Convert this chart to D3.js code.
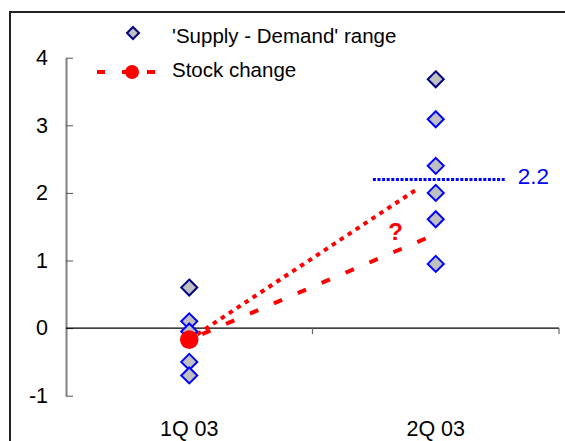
<!DOCTYPE html>
<html>
<head>
<meta charset="utf-8">
<script src="https://cdn.jsdelivr.net/npm/d3@7"></script>
<style>
  body { margin: 0; background: #fff; }
  svg { display: block; font-family: 'Liberation Sans', Arial, sans-serif; }
</style>
</head>
<body>
<div id="chart"></div>
<script>
const categories = ['1Q 03', '2Q 03'];
const yTicks = [-1, 0, 1, 2, 3, 4];

// 'Supply - Demand' range, highest estimate per quarter and the rest
const rangeMax = [0.6, 3.68];
const rangeOther = [
  [0.1, -0.05, -0.5, -0.7],
  [3.09, 2.4, 2.0, 1.61, 0.95],
];

// stock change (actual 1Q, dashed guess for 2Q)
const stockChange = [-0.17, 1.39];
// dotted projection, x in category units
const projectionX = [0.5, 1.43];
const projectionY = [-0.17, 2.07];

// 2.2 reference level and its x extent in category units
const refValue = 2.2;
const refFrom = 1.245;
const refTo = 1.78;

const width = 565;
const height = 441;
const left = 66;
const right = 559;

const svg = d3.select('#chart').append('svg').attr('width', width).attr('height', height);

svg.append('rect').attr('width', width).attr('height', height).attr('fill', '#fff');

// chart frame (runs off the right and bottom edge)
svg
  .append('rect')
  .attr('x', 10)
  .attr('y', 12)
  .attr('width', 600)
  .attr('height', 500)
  .attr('fill', 'none')
  .attr('stroke', '#222')
  .attr('stroke-width', 2);

const x = d3.scaleLinear().domain([0, categories.length]).range([left, right]);
const y = d3.scaleLinear().domain([-1, 4]).range([395.7, 57.7]);
const cx = (i) => x(i + 0.5);

// y axis
const yAxis = d3
  .axisLeft(y)
  .tickValues(yTicks)
  .tickSizeInner(-7)
  .tickSizeOuter(0)
  .tickPadding(18)
  .tickFormat((d) => String(d));
const gy = svg.append('g').attr('transform', `translate(${left},0)`).call(yAxis);
gy.select('.domain').attr('stroke', '#808080').attr('stroke-width', 2);
gy.selectAll('.tick line').attr('stroke', '#555').attr('stroke-width', 1);
gy.selectAll('.tick text')
  .attr('fill', '#000')
  .style('font-size', '21.5px')
  .style('font-family', "'Liberation Sans', Arial, sans-serif");

// x axis along zero
svg
  .append('line')
  .attr('x1', left)
  .attr('x2', right)
  .attr('y1', y(0))
  .attr('y2', y(0))
  .attr('stroke', '#000')
  .attr('stroke-width', 1.3);
svg
  .selectAll('.xtick')
  .data(d3.range(1, categories.length + 1))
  .join('line')
  .attr('class', 'xtick')
  .attr('x1', (d) => x(d))
  .attr('x2', (d) => x(d))
  .attr('y1', y(0))
  .attr('y2', y(0) + 6)
  .attr('stroke', '#666')
  .attr('stroke-width', 1.2);

svg
  .selectAll('.xlabel')
  .data(categories)
  .join('text')
  .attr('class', 'xlabel')
  .attr('x', (d, i) => cx(i))
  .attr('y', 436)
  .attr('text-anchor', 'middle')
  .style('font-size', '21.5px')
  .text((d) => d);

// 2.2 reference line
svg
  .append('line')
  .attr('x1', x(refFrom))
  .attr('x2', x(refTo))
  .attr('y1', y(refValue))
  .attr('y2', y(refValue))
  .attr('stroke', '#0000ff')
  .attr('stroke-width', 3)
  .attr('stroke-dasharray', '3,1.6');
svg
  .append('text')
  .attr('x', x(refTo) + 13)
  .attr('y', y(refValue) + 5)
  .attr('fill', '#0000ff')
  .style('font-size', '22.5px')
  .text(d3.format('.1f')(refValue));

// stock change lines
const redLine = d3
  .line()
  .x((d) => x(d[0]))
  .y((d) => y(d[1]));

svg
  .append('path')
  .datum(projectionX.map((d, i) => [d, projectionY[i]]))
  .attr('fill', 'none')
  .attr('stroke', '#ff0000')
  .attr('stroke-width', 4)
  .attr('stroke-dasharray', '4.5,5')
  .attr('d', redLine);

svg
  .append('path')
  .datum(stockChange.map((d, i) => [i + 0.5, d]))
  .attr('fill', 'none')
  .attr('stroke', '#ff0000')
  .attr('stroke-width', 4)
  .attr('stroke-dasharray', '9,17')
  .attr('stroke-dashoffset', -14)
  .attr('d', redLine);

svg
  .append('text')
  .attr('x', 395.5)
  .attr('y', 240)
  .attr('text-anchor', 'middle')
  .attr('fill', '#ff0000')
  .style('font-size', '24px')
  .style('font-weight', 'bold')
  .text('?');

// diamonds
const diamond = (r) => `M0,${-r}L${r},0L0,${r}L${-r},0Z`;
const pts = [];
rangeOther.forEach((vals, i) => vals.forEach((v) => pts.push({ i, v, top: false })));
rangeMax.forEach((v, i) => pts.push({ i, v, top: true }));

svg
  .selectAll('.dia')
  .data(pts)
  .join('path')
  .attr('class', 'dia')
  .attr('transform', (d) => `translate(${cx(d.i)},${y(d.v)})`)
  .attr('d', diamond(8))
  .attr('fill', '#c0c0c0')
  .attr('stroke', (d) => (d.top ? '#000080' : '#0000ff'))
  .attr('stroke-width', 2);

// 1Q stock change marker
svg
  .append('circle')
  .attr('cx', cx(0))
  .attr('cy', y(stockChange[0]))
  .attr('r', 9.3)
  .attr('fill', '#ff0000');

// legend
const legend = svg.append('g');
legend
  .append('path')
  .attr('transform', 'translate(133,33)')
  .attr('d', diamond(6))
  .attr('fill', '#c0c0c0')
  .attr('stroke', '#000080')
  .attr('stroke-width', 2);
legend
  .append('line')
  .attr('x1', 97)
  .attr('x2', 157)
  .attr('y1', 72)
  .attr('y2', 72)
  .attr('stroke', '#ff0000')
  .attr('stroke-width', 4)
  .attr('stroke-dasharray', '8,17');
legend.append('circle').attr('cx', 132).attr('cy', 72).attr('r', 7).attr('fill', '#ff0000');

legend
  .selectAll('text')
  .data(["'Supply - Demand' range", 'Stock change'])
  .join('text')
  .attr('x', 172)
  .attr('y', (d, i) => 42.5 + i * 34.5)
  .style('font-size', '20.5px')
  .text((d) => d);
</script>
</body>
</html>
